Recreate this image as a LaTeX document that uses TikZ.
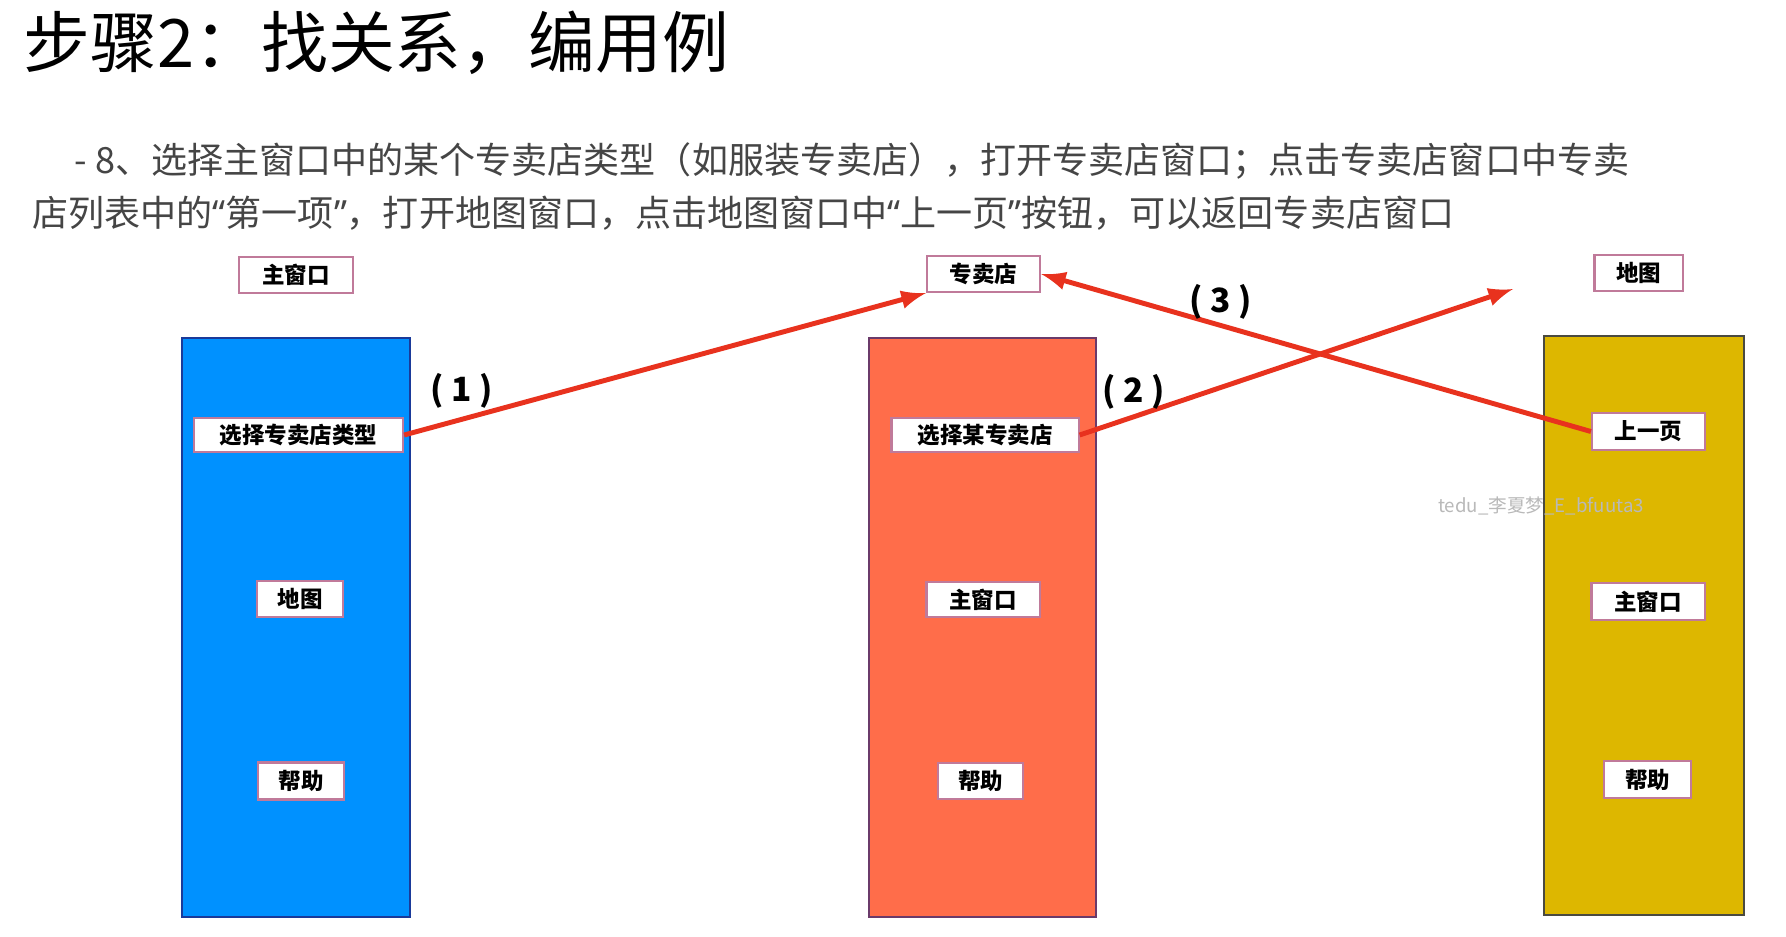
\documentclass[tikz,border=0pt]{standalone}
\usepackage{fontspec}
\setmainfont{Noto Sans CJK SC}
\newfontfamily\latin{Noto Sans}
\usepackage{xcolor}
\usepackage{tikz}
\usetikzlibrary{arrows, positioning}
\definecolor{bleuF}{HTML}{0091FF}
\definecolor{bleuB}{HTML}{1A3A9A}
\definecolor{orangeF}{HTML}{FF6D4A}
\definecolor{orangeB}{HTML}{6A3A6A}
\definecolor{jauneF}{HTML}{DDB700}
\definecolor{jauneB}{HTML}{4A4A40}
\definecolor{rougeF}{HTML}{E8321E}
\definecolor{mauveB}{HTML}{C07A9A}
\definecolor{texteG}{HTML}{454545}
\newcommand{\gq}[1]{{\latin “}#1{\latin ”}}
\tikzstyle{etiquette} = [rectangle, draw = mauveB, fill = white, line width = 0.6pt, inner sep = 0pt, minimum height = 0.36cm, font = \bfseries\fontsize{6.4}{7}\selectfont]
\tikzstyle{colonne} = [rectangle, line width = 0.6pt, inner sep = 0pt, minimum width = 2.28cm, minimum height = 5.79cm]
\tikzstyle{fleche} = [draw = rougeF, line width = 1.4pt, -latex]
\tikzstyle{numero} = [font = \bfseries\fontsize{9.5}{10}\selectfont]
\begin{document}
\begin{tikzpicture}[x = 0.01cm, y = -0.01cm]
\useasboundingbox [fill = white] (0,0) rectangle (1786,936) ;

% titre et consigne
\node (titre) [anchor = west, inner sep = 0pt, font = \fontsize{19}{20}\selectfont] at (23,43) {步骤2：找关系，编用例} ;
\node (ligne1) [anchor = west, inner sep = 0pt, text = texteG, font = \fontsize{10.25}{12}\selectfont] at (74,161) {- 8、选择主窗口中的某个专卖店类型（如服装专卖店），打开专卖店窗口；点击专卖店窗口中专卖} ;
\node (ligne2) [anchor = west, inner sep = 0pt, text = texteG, font = \fontsize{10.25}{12}\selectfont] at (32,213) {店列表中的\gq{第一项}，打开地图窗口，点击地图窗口中\gq{上一页}按钮，可以返回专卖店窗口} ;

% les trois fenetres
\node (A) [etiquette, minimum width = 1.14cm] at (296,275) {主窗口} ;
\node (B) [etiquette, minimum width = 1.13cm] at (983.5,274) {专卖店} ;
\node (C) [etiquette, minimum width = 0.88cm] at (1638.5,273) {地图} ;

\node (Acol) [colonne, fill = bleuF, draw = bleuB] at (296,627.5) {} ;
\node (Bcol) [colonne, fill = orangeF, draw = orangeB, minimum width = 2.27cm] at (982.5,627.5) {} ;
\node (Ccol) [colonne, fill = jauneF, draw = jauneB, minimum width = 2cm] at (1644,625.5) {} ;

\node (a1) [etiquette, minimum width = 2.09cm, minimum height = 0.34cm] at (298.5,435) {选择专卖店类型} ;
\node (a2) [etiquette, minimum width = 0.86cm] at (300,599) {地图} ;
\node (a3) [etiquette, minimum width = 0.86cm, minimum height = 0.37cm] at (301,781) {帮助} ;

\node (b1) [etiquette, minimum width = 1.87cm, minimum height = 0.34cm] at (985,435) {选择某专卖店} ;
\node (b2) [etiquette, minimum width = 1.13cm, minimum height = 0.35cm] at (983,599.5) {主窗口} ;
\node (b3) [etiquette, minimum width = 0.85cm] at (980.5,781) {帮助} ;

\node (c1) [etiquette, minimum width = 1.13cm, minimum height = 0.37cm] at (1648.5,431.5) {上一页} ;
\node (c2) [etiquette, minimum width = 1.13cm, minimum height = 0.37cm] at (1648,601.5) {主窗口} ;
\node (c3) [etiquette, minimum width = 0.87cm, minimum height = 0.37cm] at (1647.5,779.5) {帮助} ;

\node (marque) [text = gray!55, font = \fontsize{5.3}{6}\selectfont] at (1541,506) {tedu\_李夏梦\_E\_bfuuta3} ;

% transitions
\coordinate (versC) at (1513,289) ;
\draw [fleche] (a1.east) -- (B.south west) ;
\draw [fleche] (b1.east) -- (versC) ;
\draw [fleche] (c1.west) -- (B.east) ;

\node (n1) [numero] at (462,391) {( 1 )} ;
\node (n2) [numero] at (1133.5,392) {( 2 )} ;
\node (n3) [numero] at (1221,302) {( 3 )} ;
\end{tikzpicture}
\end{document}
